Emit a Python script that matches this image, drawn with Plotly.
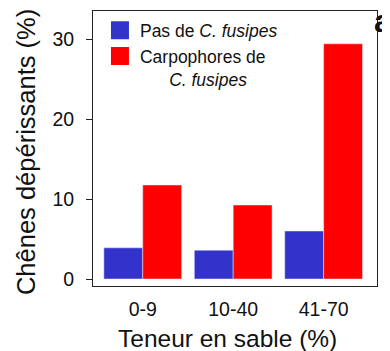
import plotly.graph_objects as go

categories = ["0-9", "10-40", "41-70"]
pas_de = [3.9, 3.6, 6.0]
carpophores = [11.75, 9.25, 29.4]
series_names = ["Pas de <i>C. fusipes</i>",
                "Carpophores de<br>" + "&nbsp;" * 6 + "<i>C. fusipes</i>"]
y_ticks = [0, 10, 20, 30]

BLUE = "#3333CC"
RED = "#FF0000"
FONT = "Liberation Sans, Arial, sans-serif"

fig = go.Figure()
fig.add_trace(go.Bar(x=categories, y=pas_de, marker_color=BLUE, showlegend=False))
fig.add_trace(go.Bar(x=categories, y=carpophores, marker_color=RED, showlegend=False))
# legend entries
for name, col in zip(series_names, [BLUE, RED]):
    fig.add_trace(go.Scatter(x=[None], y=[None], mode="markers", name=name,
                             marker=dict(symbol="square", size=16, color=col,
                                         line=dict(color=col, width=2))))

fig.update_layout(
    width=382, height=343,
    margin=dict(l=85, r=13, t=3, b=65),
    paper_bgcolor="white", plot_bgcolor="white",
    font=dict(family=FONT, color="#111"),
    barmode="group", bargap=0.14, bargroupgap=0,
    legend=dict(x=0.0245, y=0.995, xanchor="left", yanchor="top",
                bgcolor="rgba(0,0,0,0)", font=dict(size=17.5, family=FONT),
                valign="top"),
    xaxis=dict(range=[-0.55, 2.59], showline=True, linecolor="#222", linewidth=1,
               mirror=True, ticks="", tickfont=dict(size=19.5), showgrid=False,
               ticklabelstandoff=6),
    yaxis=dict(range=[-0.875, 33.5], tickvals=y_ticks, showline=True, linecolor="#222",
               linewidth=1, mirror=True, ticks="outside", ticklen=6, tickcolor="#222",
               tickfont=dict(size=19.5), showgrid=False, zeroline=False,
               ticklabelstandoff=8),
    annotations=[
        dict(text="Chênes dépérissants (%)", xref="paper", yref="paper",
             x=-0.236, y=0.487, textangle=-90, showarrow=False,
             font=dict(size=25.5, family=FONT, color="#111"),
             xanchor="center", yanchor="middle"),
        dict(text="Teneur en sable (%)", xref="paper", yref="paper",
             x=0.475, y=-0.19, showarrow=False,
             font=dict(size=24.5, family=FONT, color="#111"),
             xanchor="center", yanchor="middle"),
        dict(text="<b>a</b>", xref="paper", yref="paper",
             x=0.982, y=0.965, xanchor="left", yanchor="middle", showarrow=False,
             font=dict(size=32, family=FONT, color="#111")),
    ],
)

fig.write_html("out.html")
